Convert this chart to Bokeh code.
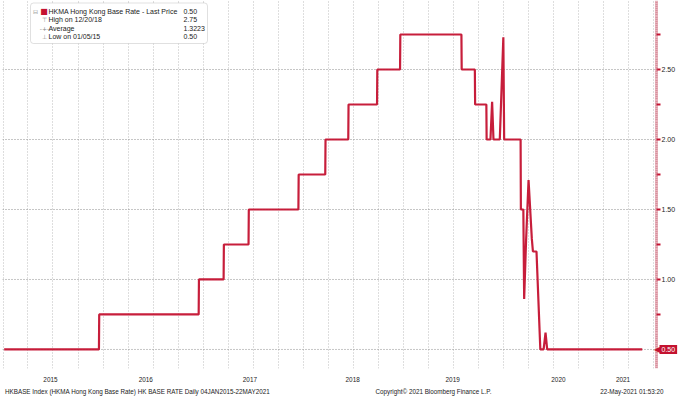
import numpy as np
import pandas as pd
from bokeh.plotting import figure
from bokeh.models import (Range1d, FixedTicker, Label, BoxAnnotation, NumeralTickFormatter,
                          ColumnDataSource, DatetimeAxis)
from bokeh.embed import file_html
from bokeh.resources import INLINE

# ---------------- data ----------------
dates = [
    "2015-01-04", "2015-12-16", "2015-12-17", "2016-12-14", "2016-12-15",
    "2017-03-15", "2017-03-16", "2017-06-14", "2017-06-15", "2017-12-13",
    "2017-12-14", "2018-03-21", "2018-03-22", "2018-06-13", "2018-06-14",
    "2018-09-26", "2018-09-27", "2018-12-19", "2018-12-20", "2019-07-31",
    "2019-08-01", "2019-09-18", "2019-09-19", "2019-10-30", "2019-10-31",
    "2019-11-14", "2019-11-20", "2019-11-25", "2019-12-18", "2019-12-31",
    "2020-01-03", "2020-03-03", "2020-03-04", "2020-03-13", "2020-03-16",
    "2020-03-23", "2020-04-01", "2020-04-13", "2020-04-17", "2020-04-30",
    "2020-05-14", "2020-05-26", "2020-06-02", "2020-06-08", "2021-05-21",
]
rates = [
    0.50, 0.50, 0.75, 0.75, 1.00,
    1.00, 1.25, 1.25, 1.50, 1.50,
    1.75, 1.75, 2.00, 2.00, 2.25,
    2.25, 2.50, 2.50, 2.75, 2.75,
    2.50, 2.50, 2.25, 2.25, 2.00,
    2.00, 2.27, 2.00, 2.00, 2.73,
    2.00, 2.00, 1.50, 1.50, 0.86,
    1.28, 1.71, 1.29, 1.20, 1.20,
    0.50, 0.50, 0.62, 0.50, 0.50,
]

series_name = "HKMA Hong Kong Base Rate - Last Price"
last_price = "0.50"
high_text, high_value = "High on 12/20/18", "2.75"
avg_text, avg_value = "Average", "1.3223"
low_text, low_value = "Low on 01/05/15", "0.50"

year_labels = ["2015", "2016", "2017", "2018", "2019", "2020", "2021"]
year_label_dates = ["2015-06-22", "2016-06-04", "2017-06-19", "2018-06-29",
                    "2019-06-29", "2020-07-19", "2021-03-12"]
y_ticks = [0.5, 0.75, 1.0, 1.25, 1.5, 1.75, 2.0, 2.25, 2.5, 2.75]
y_grid = [0.5, 1.0, 1.5, 2.0, 2.5]

footer_texts = ["HKBASE Index (HKMA Hong Kong Base Rate) HK BASE RATE  Daily 04JAN2015-22MAY2021",
                "Copyright\u00a9 2021 Bloomberg Finance L.P.",
                "22-May-2021 01:53:20"]
footer_dates = ["2016-05-08", "2019-04-20", "2021-04-13"]

# ---------------- layout helpers ----------------
def ms(d):
    return pd.Timestamp(d).value / 1e6

W, H = 678, 398
FL, FH = 2, 368
FW = W - FL                      # frame runs to the right edge; axis drawn at a fixed location
x0 = ms("2014-12-29")
axis_loc = ms("2021-07-12")      # where the right value axis sits (654 px from frame left)
per_px = (axis_loc - x0) / 654.0
x1 = x0 + FW * per_px
y0, y1 = 0.364, 2.993

def px2x(px):  # figure pixel -> data x
    return x0 + (px - FL) * per_px

def py2y(py):  # figure pixel -> data y
    return y1 - py / FH * (y1 - y0)

FONT = "Liberation Sans"
TXT = "#222222"
RED = "#c41230"

p = figure(width=W, height=H, x_range=Range1d(x0, x1), y_range=Range1d(y0, y1),
           x_axis_type="datetime", y_axis_location="right",
           output_backend="svg", toolbar_location=None,
           min_border_left=FL, min_border_top=0, min_border_right=0,
           min_border_bottom=H - FH)
p.outline_line_color = None
p.background_fill_color = "white"
p.border_fill_color = "white"

# grids
quarters = pd.date_range("2015-01-01", "2021-07-01", freq="QS")
p.xgrid.ticker = FixedTicker(ticks=[ms(d) for d in quarters])
p.xgrid.grid_line_color = "#bcbcbc"
p.xgrid.grid_line_dash = "1 2"
p.xgrid.grid_line_width = 1
p.ygrid.grid_line_color = None
n = len(y_grid)
p.segment(x0=[x0] * n, y0=y_grid, x1=[axis_loc] * n, y1=y_grid,
          line_color="#8c8c8c", line_dash="1 2", line_width=1)

src = ColumnDataSource(dict(x=pd.to_datetime(dates), y=rates))
p.line("x", "y", source=src, line_color=RED, line_width=2.2, line_alpha=0.95)

def style_text_axis(ax, standoff, size):
    ax.axis_line_color = None
    ax.major_tick_line_color = None
    ax.minor_tick_line_color = None
    ax.major_tick_out = 0
    ax.major_tick_in = 0
    ax.major_label_standoff = standoff
    ax.major_label_text_font = FONT
    ax.major_label_text_font_size = size
    ax.major_label_text_color = TXT

# x axis: year labels
xax = p.xaxis[0]
yt = [ms(d) for d in year_label_dates]
xax.ticker = FixedTicker(ticks=yt)
xax.major_label_overrides = {t: l for t, l in zip(yt, year_labels)}
style_text_axis(xax, 8, "6.4px")

# footer as a second, tick-less axis
ft = [ms(d) for d in footer_dates]
fax = DatetimeAxis(ticker=FixedTicker(ticks=ft))
fax.major_label_overrides = {t: l for t, l in zip(ft, footer_texts)}
style_text_axis(fax, 3, "6.3px")
p.add_layout(fax, "below")

# value axis on the right, pinned at axis_loc
yax = p.yaxis[0]
yax.fixed_location = axis_loc
minor = list(np.round(np.arange(0.37, 2.99, 0.015), 4))
yax.ticker = FixedTicker(ticks=y_ticks, minor_ticks=minor)
yax.formatter = NumeralTickFormatter(format="0.00")
yax.major_label_overrides = {0.5: "", 0.75: "", 1.25: "", 1.75: "", 2.25: "", 2.75: ""}
yax.axis_line_color = "#e8b3bc"
yax.axis_line_width = 3
yax.major_tick_line_color = RED
yax.major_tick_line_width = 2
yax.major_tick_out = 4
yax.major_tick_in = 0
yax.minor_tick_line_color = "#c97a8a"
yax.minor_tick_line_alpha = 0.6
yax.minor_tick_in = 1
yax.minor_tick_out = 1
yax.major_label_standoff = 1
yax.major_label_text_font = FONT
yax.major_label_text_font_size = "7px"
yax.major_label_text_color = TXT

# last price tag
p.add_layout(Label(x=px2x(653.5), y=0.5, text="\u25c0", text_color=RED,
                   text_font="DejaVu Sans", text_font_size="8px",
                   text_align="left", text_baseline="middle"))
p.add_layout(Label(x=px2x(659), y=0.5, text=last_price, text_color="white",
                   text_font=FONT, text_font_size="7px",
                   text_align="left", text_baseline="middle",
                   background_fill_color=RED, padding=2))

# legend box
p.add_layout(BoxAnnotation(left=px2x(30), right=px2x(207), top=py2y(2.5), bottom=py2y(43),
                           fill_color="white", fill_alpha=1, line_color="#999999",
                           line_width=1, border_radius=3))
rows_y = [10.7, 19.3, 28, 36.3]
texts = [series_name, high_text, avg_text, low_text]
vals = [last_price, high_value, avg_value, low_value]
icons = [None, "\u22a4", "-+-", "\u22a5"]
for ry, t, v, ic in zip(rows_y, texts, vals, icons):
    p.add_layout(Label(x=px2x(48), y=py2y(ry), text=t, text_color=TXT,
                       text_font=FONT, text_font_size="7px",
                       text_align="left", text_baseline="middle"))
    p.add_layout(Label(x=px2x(183), y=py2y(ry), text=v, text_color=TXT,
                       text_font=FONT, text_font_size="7px",
                       text_align="left", text_baseline="middle"))
    if ic:
        p.add_layout(Label(x=px2x(44), y=py2y(ry), text=ic, text_color="#888888",
                           text_font="DejaVu Sans", text_font_size="6px",
                           text_align="center", text_baseline="middle"))
p.add_layout(Label(x=px2x(35), y=py2y(rows_y[0]), text="\u229f", text_color="#999999",
                   text_font="DejaVu Sans", text_font_size="6px",
                   text_align="center", text_baseline="middle"))
p.add_layout(Label(x=px2x(43.5), y=py2y(rows_y[0]), text="\u25a0", text_color=RED,
                   text_font="DejaVu Sans", text_font_size="8px",
                   text_align="center", text_baseline="middle"))

open("out.html", "w").write(file_html(p, INLINE))
